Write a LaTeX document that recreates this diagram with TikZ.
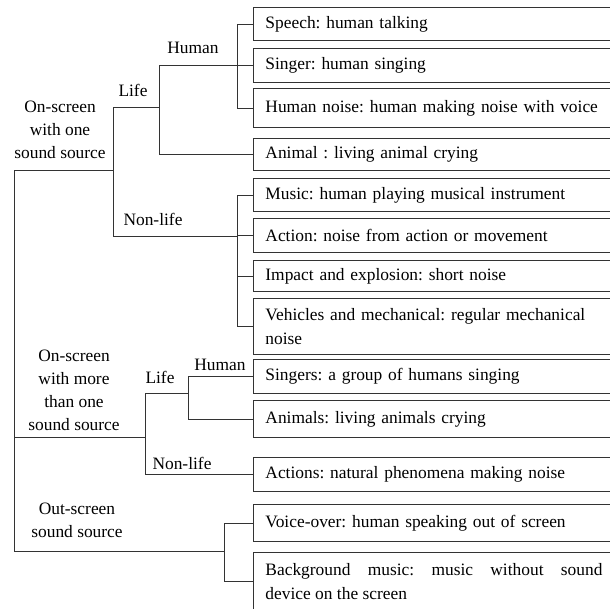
\documentclass[tikz,border=0pt]{standalone}
\usepackage{fontspec}
\setmainfont{Liberation Serif}
\frenchspacing
\begin{document}
\begin{tikzpicture}[x=1pt,y=-1pt,
    box/.style={draw=black!80,line width=0.9pt,anchor=north west,text width=345pt,
      inner xsep=12pt,inner ysep=0pt,align=left,font=\fontsize{17.4}{24.5}\selectfont},
    lbl/.style={align=center,inner sep=0pt,font=\fontsize{17.4}{23}\selectfont},
    link/.style={draw=black!80,line width=0.9pt}]
  \useasboundingbox (0,0) rectangle (610,608);

  % Leaf boxes
  \node[box,minimum height=33pt] (speech) at (253,7) {Speech: human talking};
  \node[box,minimum height=34pt] (singer) at (253,48) {Singer: human singing};
  \node[box,minimum height=39pt] (noise) at (253,88) {Human noise: human making noise with voice};
  \node[box,minimum height=32pt] (animal) at (253,138) {Animal : living animal crying};
  \node[box,minimum height=33pt] (music) at (253,178) {Music: human playing musical instrument};
  \node[box,minimum height=34pt] (action) at (253,218) {Action: noise from action or movement};
  \node[box,minimum height=31pt] (impact) at (253,260) {Impact and explosion: short noise};
  \node[box,minimum height=56pt] (vehicle) at (253,298) {Vehicles and mechanical: regular mechanical\\noise};
  \node[box,minimum height=34pt] (singers) at (253,359) {Singers: a group of humans singing};
  \node[box,minimum height=37pt] (animals) at (253,400) {Animals: living animals crying};
  \node[box,minimum height=34pt] (actions) at (253,457) {Actions: natural phenomena making noise};
  \node[box,minimum height=37pt] (voice) at (253,504) {Voice-over: human speaking out of screen};
  \node[box,minimum height=58pt,text width=337pt,align=justify] (bgm) at (253,552)
    {Background music: music without sound\linebreak device on the screen};

  % Branch labels
  \node[lbl] (onelbl) at (60,130) {On-screen\\with one\\sound source};
  \node[lbl] (life1lbl) at (133,90) {Life};
  \node[lbl] (hum1lbl) at (193,48) {Human};
  \node[lbl] (non1lbl) at (153,219) {Non-life};
  \node[lbl] (morelbl) at (74,390) {On-screen\\with more\\than one\\sound source};
  \node[lbl] (life2lbl) at (160,377) {Life};
  \node[lbl] (hum2lbl) at (220,365) {Human};
  \node[lbl] (non2lbl) at (182,463) {Non-life};
  \node[lbl] (outlbl) at (77,520) {Out-screen\\sound source};

  % Junctions
  \coordinate (root) at (14,170);
  \coordinate (one) at (113,170);
  \coordinate (life1) at (159,107);
  \coordinate (hum1) at (237,65);
  \coordinate (non1) at (237,236);
  \coordinate (more) at (145,437);
  \coordinate (life2) at (188,393);
  \coordinate (out) at (224,551);

  % Tree
  \draw[link] (root) -- (one);
  \draw[link] (root) |- (more);
  \draw[link] (root) |- (out);
  \draw[link] (one) |- (life1);
  \draw[link] (one) |- (non1);
  \draw[link] (life1) |- (hum1);
  \draw[link] (life1) |- (animal.west);
  \foreach \leaf in {speech,singer,noise}
    \draw[link] (hum1) |- (\leaf.west);
  \foreach \leaf in {music,action,impact,vehicle}
    \draw[link] (non1) |- (\leaf.west);
  \draw[link] (more) |- (life2);
  \draw[link] (more) |- (actions.west);
  \foreach \leaf in {singers,animals}
    \draw[link] (life2) |- (\leaf.west);
  \foreach \leaf in {voice,bgm}
    \draw[link] (out) |- (\leaf.west);
\end{tikzpicture}
\end{document}
